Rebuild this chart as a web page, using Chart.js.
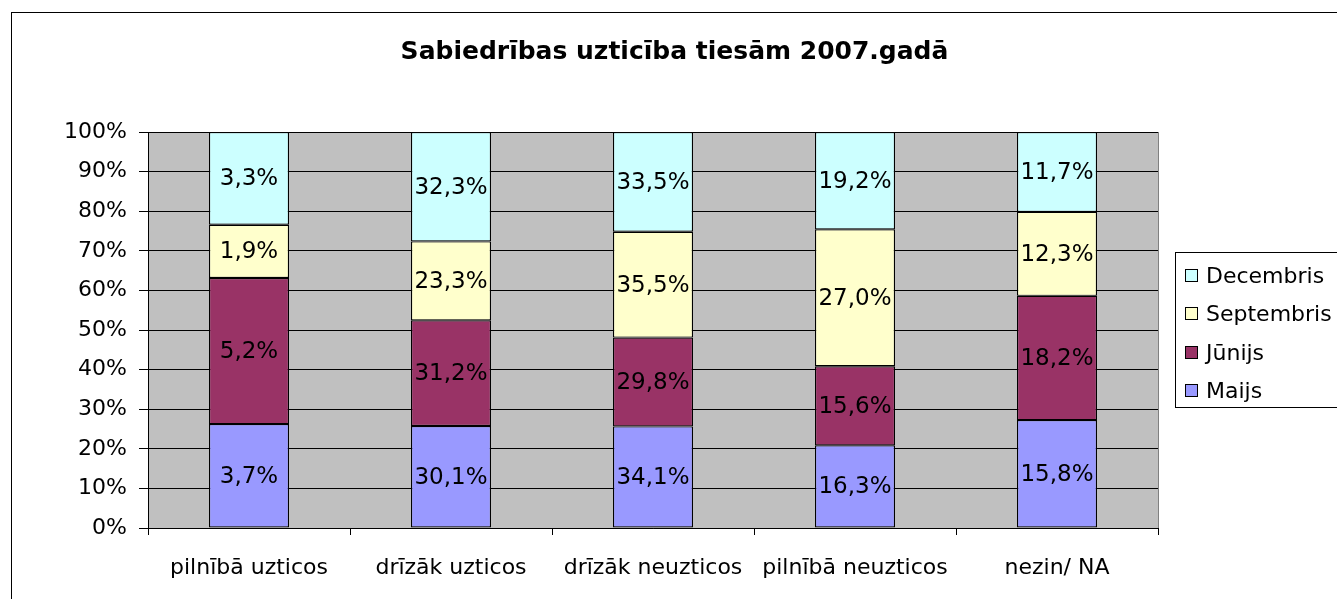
<!DOCTYPE html>
<html>
<head>
<meta charset="utf-8">
<script src="https://cdn.jsdelivr.net/npm/chart.js@4/dist/chart.umd.min.js"></script>
<style>
html,body{margin:0;padding:0;background:#fff;}
canvas{display:block;}
</style>
</head>
<body>
<canvas id="c" width="1337" height="599"></canvas>
<script>
const chartTitle = 'Sabiedrības uzticība tiesām 2007.gadā';
const categories = ['pilnībā uzticos', 'drīzāk uzticos', 'drīzāk neuzticos', 'pilnībā neuzticos', 'nezin/ NA'];
const seriesNames = ['Maijs', 'Jūnijs', 'Septembris', 'Decembris'];
const maijs = [3.7, 30.1, 34.1, 16.3, 15.8];
const junijs = [5.2, 31.2, 29.8, 15.6, 18.2];
const septembris = [1.9, 23.3, 35.5, 27.0, 12.3];
const decembris = [3.3, 32.3, 33.5, 19.2, 11.7];
const seriesColors = ['#9999FF', '#993366', '#FFFFCC', '#CCFFFF'];
const yTicks = [0, 10, 20, 30, 40, 50, 60, 70, 80, 90, 100];

const raw = [maijs, junijs, septembris, decembris];
const totals = categories.map((_, i) => raw.reduce((s, arr) => s + arr[i], 0));
const FONT = 'DejaVu Sans';

const datasets = raw.map((arr, k) => ({
  label: seriesNames[k],
  data: arr.map((v, i) => v / totals[i] * 100),
  rawValues: arr,
  backgroundColor: seriesColors[k],
  borderColor: '#000',
  borderWidth: 1.2,
  borderSkipped: false,
  categoryPercentage: 1,
  barPercentage: 80 / 202
}));

const framePlugin = {
  id: 'frame',
  beforeDraw(chart) {
    const ctx = chart.ctx, a = chart.chartArea;
    ctx.save();
    ctx.fillStyle = '#fff';
    ctx.fillRect(0, 0, chart.width, chart.height);
    ctx.strokeStyle = '#000';
    ctx.lineWidth = 1;
    ctx.strokeRect(11.5, 12.5, chart.width + 10, chart.height + 10);
    ctx.fillStyle = '#C0C0C0';
    ctx.fillRect(a.left, a.top, a.right - a.left, a.bottom - a.top);
    ctx.strokeStyle = '#808080';
    ctx.beginPath();
    ctx.moveTo(Math.round(a.right) + 0.5, a.top);
    ctx.lineTo(Math.round(a.right) + 0.5, a.bottom);
    ctx.moveTo(a.left, Math.round(a.top) + 0.5);
    ctx.lineTo(a.right, Math.round(a.top) + 0.5);
    ctx.stroke();
    ctx.restore();
  }
};

const labelPlugin = {
  id: 'segLabels',
  afterDatasetsDraw(chart) {
    const ctx = chart.ctx;
    ctx.save();
    ctx.font = '23px "' + FONT + '"';
    ctx.fillStyle = '#000';
    ctx.textAlign = 'center';
    ctx.textBaseline = 'middle';
    chart.data.datasets.forEach((ds, k) => {
      const meta = chart.getDatasetMeta(k);
      meta.data.forEach((el, i) => {
        const p = el.getCenterPoint();
        const txt = ds.rawValues[i].toFixed(1).replace('.', ',') + '%';
        ctx.fillText(txt, p.x, p.y + 1);
      });
    });
    ctx.restore();
  }
};

const legendPlugin = {
  id: 'boxLegend',
  afterDraw(chart) {
    const ctx = chart.ctx;
    ctx.save();
    const x0 = 1175.5, y0 = 252.5, y1 = 407.5;
    ctx.fillStyle = '#fff';
    ctx.fillRect(x0, y0, chart.width, y1 - y0);
    ctx.strokeStyle = '#000';
    ctx.lineWidth = 1;
    ctx.strokeRect(x0, y0, chart.width, y1 - y0);
    const ys = [391, 353, 314, 276];
    ctx.font = '22px "' + FONT + '"';
    ctx.textBaseline = 'middle';
    ctx.textAlign = 'left';
    chart.data.datasets.forEach((ds, k) => {
      const y = ys[k];
      ctx.fillStyle = ds.backgroundColor;
      ctx.fillRect(1185.5, y - 6.5, 12, 12);
      ctx.strokeRect(1185.5, y - 6.5, 12, 12);
      ctx.fillStyle = '#000';
      ctx.fillText(ds.label, 1206, y + 1);
    });
    ctx.restore();
  }
};

new Chart(document.getElementById('c'), {
  type: 'bar',
  data: { labels: categories, datasets },
  options: {
    responsive: false,
    animation: false,
    devicePixelRatio: 1,
    layout: { padding: { left: 12, right: 0, top: 0, bottom: 0 } },
    plugins: {
      legend: { display: false },
      tooltip: { enabled: false },
      title: {
        display: true,
        text: chartTitle,
        color: '#000',
        font: { family: FONT, size: 25, weight: 'bold', lineHeight: 1.2 },
        padding: { top: 37, bottom: 65 }
      }
    },
    scales: {
      x: {
        stacked: true,
        offset: true,
        grid: { display: true, offset: true, drawOnChartArea: false, drawTicks: true, tickLength: 7, color: '#000', lineWidth: 1 },
        border: { display: true, color: '#000', width: 1 },
        ticks: { color: '#000', font: { family: FONT, size: 22 }, padding: 20, maxRotation: 0, autoSkip: false },
        afterFit(s) { s.height = 71; }
      },
      y: {
        stacked: true,
        min: 0,
        max: 100,
        afterBuildTicks(s) { s.ticks = yTicks.map(v => ({ value: v })); },
        grid: { color: '#000', lineWidth: 1, drawTicks: true, tickLength: 9 },
        border: { display: true, color: '#000', width: 1 },
        ticks: { color: '#000', font: { family: FONT, size: 22 }, padding: 12, callback: v => v + '%' },
        afterFit(s) { s.width = 136; }
      },
      y2: {
        position: 'right',
        display: true,
        grid: { display: false, drawTicks: false },
        border: { display: false },
        ticks: { display: false },
        afterFit(s) { s.width = 179; }
      }
    }
  },
  plugins: [framePlugin, labelPlugin, legendPlugin]
});
</script>
</body>
</html>
